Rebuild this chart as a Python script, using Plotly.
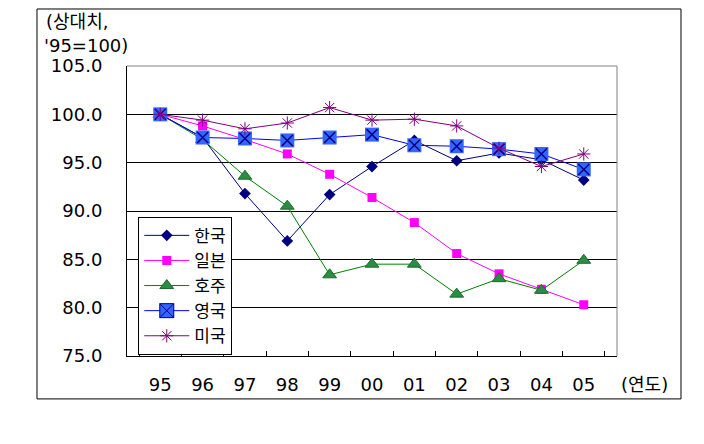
import plotly.graph_objects as go

years = ['95', '96', '97', '98', '99', '00', '01', '02', '03', '04', '05']

korea = [100.0, 97.6, 91.8, 86.9, 91.7, 94.6, 97.3, 95.2, 96.0, 95.3, 93.2]
japan = [100.0, 98.8, 97.4, 95.9, 93.8, 91.4, 88.8, 85.6, 83.5, 81.9, 80.3]
australia = [100.0, 97.4, 93.6, 90.5, 83.4, 84.5, 84.5, 81.4, 83.0, 81.8, 84.9]
uk = [100.0, 97.6, 97.5, 97.3, 97.6, 97.9, 96.8, 96.7, 96.4, 95.9, 94.3]
usa = [100.0, 99.4, 98.5, 99.1, 100.7, 99.4, 99.5, 98.8, 96.5, 94.6, 95.9]

FONT = 'DejaVu Sans, Noto Sans CJK KR, sans-serif'
KFONT = 'Noto Sans CJK KR, sans-serif'

fig = go.Figure()

fig.add_trace(go.Scatter(
    x=years, y=korea, name='한국', mode='lines+markers',
    line=dict(color='#000080', width=1),
    marker=dict(symbol='diamond', size=9, color='#000080'),
))
fig.add_trace(go.Scatter(
    x=years, y=japan, name='일본', mode='lines+markers',
    line=dict(color='#FF00FF', width=1),
    marker=dict(symbol='square', size=9, color='#FF00FF'),
))
fig.add_trace(go.Scatter(
    x=years, y=australia, name='호주', mode='lines+markers',
    line=dict(color='#008000', width=1),
    marker=dict(symbol='triangle-up', size=12, color='#2E8B45',
                line=dict(color='#1B6B2B', width=1)),
))
# 영국: legend entry only
fig.add_trace(go.Scatter(
    x=[None], y=[None], name='영국', mode='lines+markers',
    line=dict(color='#0000FF', width=1),
    marker=dict(symbol='square-x', size=14, color='#3366FF',
                line=dict(color='#000080', width=1)),
))
fig.add_trace(go.Scatter(
    x=years, y=uk, name='영국', mode='lines+markers', showlegend=False,
    line=dict(color='#0000FF', width=1),
    marker=dict(symbol='square', size=14, color='#3366FF'),
))
fig.add_trace(go.Scatter(
    x=years, y=uk, name='영국', mode='markers', showlegend=False,
    marker=dict(symbol='x-thin-open', size=11, color='#000080',
                line=dict(color='#000080', width=1.5)),
))
fig.add_trace(go.Scatter(
    x=years, y=usa, name='미국', mode='lines+markers',
    line=dict(color='#800080', width=1),
    marker=dict(symbol='asterisk-open', size=11, color='#800080',
                line=dict(color='#800080', width=1)),
))

# page body has an 8px margin, so the figure is a bit smaller than the window
fig.update_layout(
    width=688, height=428,
    paper_bgcolor='white', plot_bgcolor='white',
    margin=dict(l=119, r=79, t=58, b=80),
    font=dict(family=FONT, size=18, color='black'),
    showlegend=True,
    legend=dict(
        x=0.023, y=0.48, xanchor='left', yanchor='top',
        bgcolor='white', bordercolor='black', borderwidth=1,
        font=dict(family=KFONT, size=17, color='black'),
        itemwidth=45, tracegroupgap=0,
    ),
)

fig.update_xaxes(
    type='category', showgrid=False,
    showline=True, linecolor='black', linewidth=1,
    ticks='inside', tickson='boundaries', ticklen=5, tickcolor='black',
    ticklabelstandoff=12,
    tickfont=dict(family=FONT, size=18),
)
fig.update_yaxes(
    range=[75, 105], dtick=5, tickformat='.1f',
    showgrid=True, gridcolor='black', gridwidth=1,
    showline=True, linecolor='black', linewidth=1,
    ticks='inside', ticklen=7, tickcolor='black',
    ticklabelstandoff=20, zeroline=False,
    tickfont=dict(family=FONT, size=18),
)

# plot area top/right border in gray
fig.add_shape(type='line', xref='paper', yref='paper', x0=0, x1=1, y0=1, y1=1,
              line=dict(color='#808080', width=1), layer='above')
fig.add_shape(type='line', xref='paper', yref='paper', x0=1, x1=1, y0=0, y1=1,
              line=dict(color='#808080', width=1), layer='above')
# outer chart border
fig.add_shape(type='rect', xref='paper', yref='paper',
              x0=-0.1837, x1=1.1306, y0=-0.148, y1=1.1966,
              line=dict(color='black', width=1), layer='above')

fig.add_annotation(text='(상대치,', xref='paper', yref='paper',
                   x=-0.169, y=1.152, xanchor='left', yanchor='middle',
                   showarrow=False, font=dict(family=FONT, size=18))
fig.add_annotation(text="'95=100)", xref='paper', yref='paper',
                   x=-0.1735, y=1.07, xanchor='left', yanchor='middle',
                   showarrow=False, font=dict(family=FONT, size=18))
fig.add_annotation(text='(연도)', xref='paper', yref='paper',
                   x=1.057, y=-0.0966, xanchor='center', yanchor='middle',
                   showarrow=False, font=dict(family=FONT, size=18))

fig.write_html('out.html')
